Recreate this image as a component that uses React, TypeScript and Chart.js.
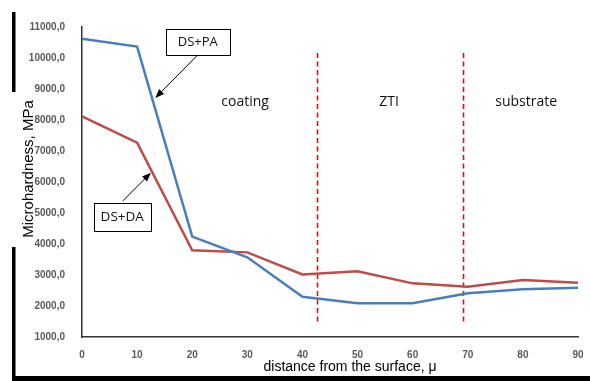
import React, { useEffect, useRef } from "react";
import { Chart, registerables } from "chart.js";

Chart.register(...registerables);

// ---- data ----
const distances = [0, 10, 20, 30, 40, 50, 60, 70, 80, 90];
const dsPa = [10620, 10370, 4240, 3570, 2300, 2090, 2090, 2410, 2540, 2590];
const dsDa = [8120, 7270, 3800, 3730, 3020, 3120, 2730, 2620, 2840, 2750];
const seriesNames = ["DS+PA", "DS+DA"];
const zoneBounds = [42.6, 69.2];
const zoneBoundRange = [1390, 10160];
const zoneLabels = ["coating", "ZTI", "substrate"];
const zoneLabelX = [29.6, 55.7, 80.6];
const zoneLabelY = 8580;
// annotation callouts: [boxCenterX, boxCenterY, arrowStartX, arrowStartY, arrowTipX, arrowTipY] in data units
const calloutPa = [21.0, 10530, 21.0, 10100, 13.3, 8710];
const calloutDa = [7.3, 4880, 7.4, 5390, 12.5, 6300];
const yTitle = "Microhardness, MPa";
const xTitle = "distance from the surface, \u03bc";

const BLUE = "#4a7ebb";
const RED = "#be4b48";

const overlayPlugin = {
  id: "overlay",
  beforeDraw(chart: any) {
    const ctx = chart.ctx;
    ctx.save();
    ctx.fillStyle = "#ffffff";
    ctx.fillRect(0, 0, chart.width, chart.height);
    // shadow frame
    ctx.fillStyle = "#000000";
    ctx.fillRect(12, 12, 3.5, 366);
    ctx.fillRect(12, 376, chart.width - 12, 5);
    ctx.fillStyle = "#ffffff";
    ctx.fillRect(11, 92, 6, 155);
    ctx.restore();
  },
  beforeDatasetsDraw(chart: any) {
    const ctx = chart.ctx;
    const xs = chart.scales.x;
    const ys = chart.scales.y;
    ctx.save();
    ctx.strokeStyle = "#ff0000";
    ctx.lineWidth = 1.6;
    ctx.setLineDash([5, 3.5]);
    zoneBounds.forEach((b) => {
      const px = Math.round(xs.getPixelForValue(b)) + 0.5;
      ctx.beginPath();
      ctx.moveTo(px, ys.getPixelForValue(zoneBoundRange[1]));
      ctx.lineTo(px, ys.getPixelForValue(zoneBoundRange[0]));
      ctx.stroke();
    });
    ctx.restore();
  },
  afterDraw(chart: any) {
    const ctx = chart.ctx;
    const xs = chart.scales.x;
    const ys = chart.scales.y;
    ctx.save();
    // zone labels
    ctx.fillStyle = "#111111";
    ctx.font = "14px 'Open Sans'";
    ctx.textAlign = "center";
    ctx.textBaseline = "middle";
    zoneLabels.forEach((t, i) => {
      ctx.fillText(t, xs.getPixelForValue(zoneLabelX[i]), ys.getPixelForValue(zoneLabelY));
    });

    // axis titles
    ctx.fillStyle = "#000000";
    ctx.font = "14px 'Liberation Sans'";
    ctx.fillText(xTitle, 350, 367);
    ctx.save();
    ctx.translate(29, 169);
    ctx.rotate(-Math.PI / 2);
    ctx.font = "15px 'Liberation Sans'";
    ctx.fillText(yTitle, 0, 0);
    ctx.restore();

    const drawCallout = (c: number[], label: string, w: number, h: number, fs: number) => {
      const cx = xs.getPixelForValue(c[0]);
      const cy = ys.getPixelForValue(c[1]);
      const sx = xs.getPixelForValue(c[2]);
      const sy = ys.getPixelForValue(c[3]);
      const tx = xs.getPixelForValue(c[4]);
      const ty = ys.getPixelForValue(c[5]);
      // arrow line
      const ang = Math.atan2(ty - sy, tx - sx);
      const headLen = 9;
      const headW = 3.5;
      const bx = tx - headLen * Math.cos(ang);
      const by = ty - headLen * Math.sin(ang);
      ctx.strokeStyle = "#000000";
      ctx.lineWidth = 1;
      ctx.beginPath();
      ctx.moveTo(sx, sy);
      ctx.lineTo(bx, by);
      ctx.stroke();
      ctx.fillStyle = "#000000";
      ctx.beginPath();
      ctx.moveTo(tx, ty);
      ctx.lineTo(bx + headW * Math.sin(ang), by - headW * Math.cos(ang));
      ctx.lineTo(bx - headW * Math.sin(ang), by + headW * Math.cos(ang));
      ctx.closePath();
      ctx.fill();
      // box
      ctx.fillStyle = "#ffffff";
      ctx.fillRect(cx - w / 2, cy - h / 2, w, h);
      ctx.strokeStyle = "#000000";
      ctx.lineWidth = 1;
      ctx.strokeRect(Math.round(cx - w / 2) + 0.5, Math.round(cy - h / 2) + 0.5, w, h);
      ctx.fillStyle = "#111111";
      ctx.font = fs + "px 'Open Sans'";
      ctx.textAlign = "center";
      ctx.textBaseline = "middle";
      ctx.fillText(label, cx, cy + 0.5);
    };
    drawCallout(calloutPa, seriesNames[0], 64, 26, 13);
    drawCallout(calloutDa, seriesNames[1], 57, 28, 13.5);
    ctx.restore();
  },
};

export default function App() {
  const ref = useRef<HTMLCanvasElement>(null);
  useEffect(() => {
    if (!ref.current) return;
    const chart = new Chart(ref.current, {
      type: "line",
      data: {
        datasets: [
          {
            label: seriesNames[0],
            data: distances.map((d, i) => ({ x: d, y: dsPa[i] })),
            borderColor: BLUE,
            backgroundColor: BLUE,
            borderWidth: 2.5,
            pointRadius: 0,
            tension: 0,
          },
          {
            label: seriesNames[1],
            data: distances.map((d, i) => ({ x: d, y: dsDa[i] })),
            borderColor: RED,
            backgroundColor: RED,
            borderWidth: 2.5,
            pointRadius: 0,
            tension: 0,
          },
        ],
      },
      options: {
        responsive: false,
        animation: false,
        devicePixelRatio: 1,
        layout: { padding: { left: 0, right: 12, top: 27, bottom: 0 } },
        plugins: {
          legend: { display: false },
          tooltip: { enabled: false },
        },
        scales: {
          x: {
            type: "linear",
            min: 0,
            max: 90,
            grid: { display: false },
            border: { display: true, color: "#333333", width: 1.5 },
            ticks: {
              stepSize: 10,
              padding: 4,
              color: "#595959",
              font: { family: "'Liberation Sans'", size: 10, weight: "bold" },
              maxRotation: 0,
            },
            afterFit: (s: any) => {
              s.height = 44;
            },
          },
          y: {
            type: "linear",
            min: 1000,
            max: 11000,
            grid: { display: false },
            border: { display: true, color: "#333333", width: 1.5 },
            ticks: {
              stepSize: 1000,
              padding: 9,
              color: "#595959",
              font: { family: "'Liberation Sans'", size: 10, weight: "bold" },
              callback: (v: any) => Number(v).toFixed(1).replace(".", ","),
            },
            afterFit: (s: any) => {
              s.width = 82;
            },
          },
        },
      },
      plugins: [overlayPlugin],
    });
    return () => chart.destroy();
  }, []);
  return (
    <div style={{ position: "fixed", left: 0, top: 0, width: 590, height: 381, background: "#fff" }}>
      <canvas ref={ref} width={590} height={381} style={{ display: "block" }} />
    </div>
  );
}
